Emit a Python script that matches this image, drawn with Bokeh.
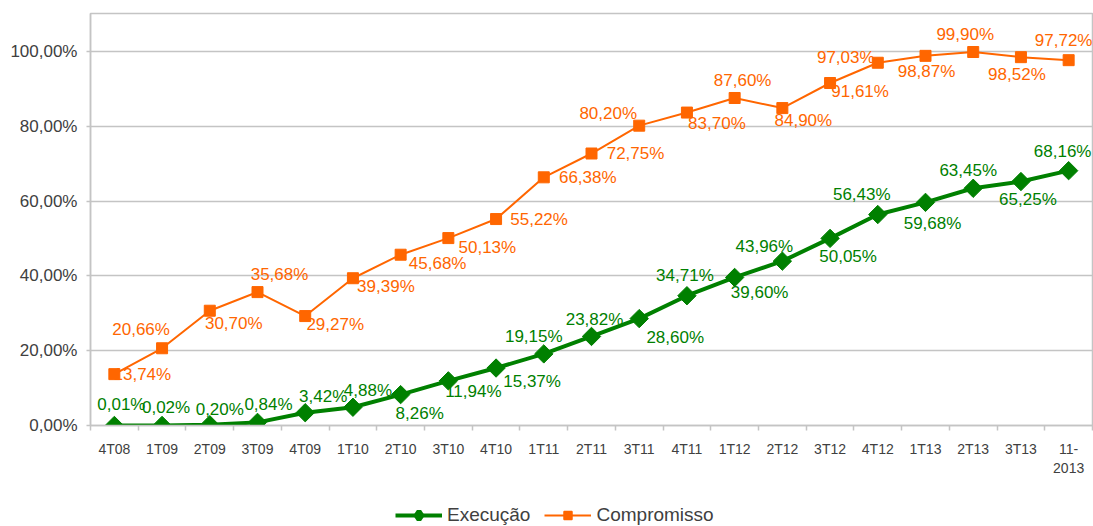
import math

from bokeh.plotting import figure
from bokeh.layouts import column
from bokeh.models import ColumnDataSource, FixedTicker, Range1d, Legend, LegendItem
from bokeh.core.properties import value
from bokeh.embed import file_html
from bokeh.resources import INLINE

# Quarterly periods and cumulative percentages
periods = ["4T08", "1T09", "2T09", "3T09", "4T09", "1T10", "2T10", "3T10", "4T10",
           "1T11", "2T11", "3T11", "4T11", "1T12", "2T12", "3T12", "4T12",
           "1T13", "2T13", "3T13", "11-\n2013"]
execucao = [0.01, 0.02, 0.20, 0.84, 3.42, 4.88, 8.26, 11.94, 15.37, 19.15, 23.82,
            28.60, 34.71, 39.60, 43.96, 50.05, 56.43, 59.68, 63.45, 65.25, 68.16]
compromisso = [13.74, 20.66, 30.70, 35.68, 29.27, 39.39, 45.68, 50.13, 55.22, 66.38,
               72.75, 80.20, 83.70, 87.60, 84.90, 91.61, 97.03, 98.87, 99.90, 98.52, 97.72]
y_ticks = [0, 20, 40, 60, 80, 100]

# Label placement (screen pixels relative to each point, +y is down)
exec_dx = [7, 4, 10, 11, 18, 15, 19, 25, 36, -10, 3, 36, -2, 25, -18, 18, -16, 7, -5, 7, -6]
exec_dy = [-21, -18, -15, -18, -16, -17, 19, 11, 13, -17, -17, 19, -20, 15, -15, 18, -20, 21, -18, 18, -19]
comp_dx = [28, -21, 24, 22, 30, 33, 37, 39, 43, 44, 44, -31, 30, 8, 21, 30, -32, 1, -8, -4, -5]
comp_dy = [0, -19, 13, -18, 8, 8, 9, 9, 0, 0, 0, -12, 11, -17, 12, 8, -5, 16, -18, 17, -20]

GREEN = "#008000"
ORANGE = "#ff6600"
GRID = "#c4c4c4"
TEXT = "#404040"
FONT = "Liberation Sans"


def pct(v):
    return f"{v:.2f}".replace(".", ",") + "%"


idx = list(range(len(periods)))
src_e = ColumnDataSource(dict(x=idx, y=execucao, lab=[pct(v) for v in execucao],
                              dx=exec_dx, dy=exec_dy))
src_c = ColumnDataSource(dict(x=idx, y=compromisso, lab=[pct(v) for v in compromisso],
                              dx=comp_dx, dy=comp_dy))

p = figure(width=1093, height=480, output_backend="svg", toolbar_location=None,
           x_range=Range1d(-0.5, len(periods) - 0.5), y_range=Range1d(0, 110.2),
           min_border_left=90, min_border_right=1, min_border_top=13, min_border_bottom=55,
           background_fill_color="white", border_fill_color="white")

p.outline_line_color = GRID
p.outline_line_width = 1.5

# x axis: labels at category centres, small ticks on the boundaries
p.xaxis.ticker = FixedTicker(ticks=idx, minor_ticks=[i - 0.5 for i in range(len(periods) + 1)])
p.xaxis.major_label_overrides = {i: lab for i, lab in enumerate(periods)}
p.xaxis.major_tick_out = 0
p.xaxis.major_tick_in = 0
p.xaxis.minor_tick_out = 5
p.xaxis.minor_tick_in = 0
p.xaxis.minor_tick_line_color = GRID
p.xaxis.minor_tick_line_width = 1.5
p.xaxis.axis_line_color = GRID
p.xaxis.axis_line_width = 1.5
p.xaxis.major_label_standoff = 10
p.xaxis.major_label_text_font = FONT
p.xaxis.major_label_text_font_size = "14px"
p.xaxis.major_label_text_color = TEXT
p.xgrid.visible = False

# y axis
p.yaxis.ticker = FixedTicker(ticks=y_ticks)
p.yaxis.major_label_overrides = {t: pct(t) for t in y_ticks}
p.yaxis.major_tick_out = 4
p.yaxis.major_tick_in = 0
p.yaxis.major_tick_line_color = GRID
p.yaxis.major_tick_line_width = 1.5
p.yaxis.minor_tick_line_color = None
p.yaxis.axis_line_color = GRID
p.yaxis.axis_line_width = 1.5
p.yaxis.major_label_standoff = 9
p.yaxis.major_label_text_font = FONT
p.yaxis.major_label_text_font_size = "17px"
p.yaxis.major_label_text_color = TEXT
p.ygrid.grid_line_color = GRID
p.ygrid.grid_line_width = 1.5

# series
p.line("x", "y", source=src_c, line_color=ORANGE, line_width=2)
p.scatter("x", "y", source=src_c, marker="square", size=11,
          fill_color=ORANGE, line_color=ORANGE)
p.line("x", "y", source=src_e, line_color=GREEN, line_width=4)
p.scatter("x", "y", source=src_e, marker="square", size=13, angle=math.pi / 4,
          fill_color=GREEN, line_color=GREEN)

# value labels
for src, col in ((src_c, ORANGE), (src_e, GREEN)):
    p.text("x", "y", text="lab", source=src, x_offset="dx", y_offset="dy",
           text_align="center", text_baseline="middle", text_color=col,
           text_font=value(FONT), text_font_size="17px")

# legend strip underneath the chart (key glyphs only, nothing plotted)
lg = figure(width=1093, height=46, output_backend="svg", toolbar_location=None,
            x_range=Range1d(0, 1), y_range=Range1d(0, 1),
            x_axis_type=None, y_axis_type=None,
            min_border=0, outline_line_color=None,
            background_fill_color="white", border_fill_color="white")
lg.grid.visible = False
nan = [float("nan")]
k_el = lg.line(x=nan, y=nan, line_color=GREEN, line_width=4)
k_es = lg.scatter(x=nan, y=nan, marker="diamond", size=15, line_width=5,
                  fill_color=GREEN, line_color=GREEN)
k_cl = lg.line(x=nan, y=nan, line_color=ORANGE, line_width=2)
k_cs = lg.scatter(x=nan, y=nan, marker="square", size=10, line_width=1.5,
                  fill_color=ORANGE, line_color=ORANGE)
legend = Legend(items=[LegendItem(label="Execução", renderers=[k_el, k_es]),
                       LegendItem(label="Compromisso", renderers=[k_cl, k_cs])],
                location=(305, 0), orientation="horizontal",
                border_line_color=None, background_fill_alpha=0,
                padding=0, margin=0, spacing=14, glyph_width=47, glyph_height=20,
                label_standoff=5, label_text_font=FONT, label_text_font_size="19px",
                label_text_color=TEXT)
lg.add_layout(legend, "center")

open("out.html", "w").write(file_html(column(p, lg, spacing=0), INLINE))
